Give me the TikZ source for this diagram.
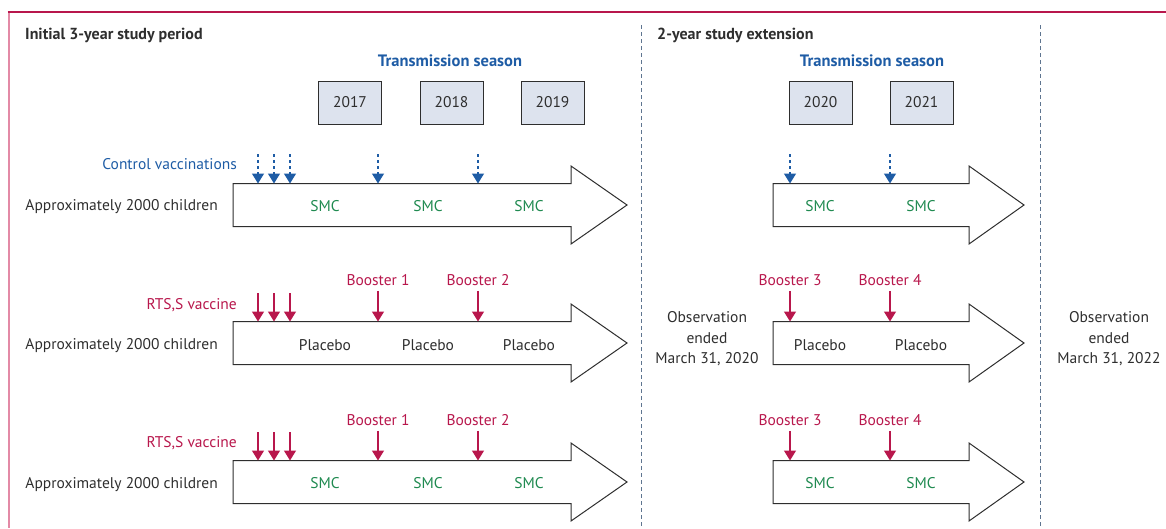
\documentclass[tikz,border=0pt]{standalone}
\usepackage{fontspec}
\setmainfont{PT Sans}
\usetikzlibrary{arrows.meta, positioning, calc}
\definecolor{lancetred}{HTML}{B8174C}
\definecolor{framepink}{HTML}{E38AA6}
\definecolor{seasonblue}{HTML}{1E5CA5}
\definecolor{smcgreen}{HTML}{1F8A50}
\definecolor{boxfill}{HTML}{DDE3EE}
\definecolor{txtgray}{HTML}{2E2E2E}
\definecolor{slate}{HTML}{5E7590}
\newcommand{\fatarrow}[4]{%
  % #1 = x inicial, #2 = y centro, #3 = x fim do corpo, #4 = x da ponta
  \draw[txtgray, line width=1pt, fill=white]
    (#1,#2-21.5) -- (#3,#2-21.5) -- (#3,#2-39) --
    (#4,#2) --
    (#3,#2+39) -- (#3,#2+21.5) -- (#1,#2+21.5) -- cycle;
}
\tikzset{
  ano/.style={draw=txtgray, fill=boxfill, line width=0.9pt, minimum width=63pt,
    minimum height=43pt, inner sep=0pt, text=txtgray},
  titulo/.style={font=\fontsize{16}{18}\selectfont\bfseries, text=txtgray, anchor=west, inner sep=0pt},
  estacao/.style={font=\fontsize{16.5}{18}\selectfont\bfseries, text=seasonblue, inner sep=0pt},
  grupo/.style={text=txtgray, anchor=east, inner sep=0pt},
  smc/.style={text=smcgreen, inner sep=0pt},
  placebo/.style={text=txtgray, inner sep=0pt},
  vac/.style={text=lancetred, inner sep=0pt},
  ctrl/.style={text=seasonblue, inner sep=0pt},
  obs/.style={text=txtgray, align=center, inner sep=0pt,
    font=\fontsize{15.5}{20.5}\selectfont},
  redarrow/.style={lancetred, line width=1.4pt, -{Triangle[width=12pt, length=10pt]}},
  bluearrow/.style={seasonblue, line width=1.4pt, dash pattern=on 3pt off 3pt,
    -{Triangle[width=12pt, length=10pt]}},
  divisa/.style={slate, line width=0.9pt, dash pattern=on 4pt off 3pt},
}

\begin{document}
\begin{tikzpicture}[x=1pt, y=-1pt, >=latex, font=\fontsize{15.5}{18}\selectfont]
    \useasboundingbox (0,0) rectangle (1166,528);

    % moldura
    \draw[framepink, line width=2pt] (8.5,12) -- (8.5,528);
    \draw[lancetred, line width=1.6pt] (7.5,12) -- (1166,12);

    % divisas
    \coordinate (d1top) at (641,25);
    \coordinate (d1bot) at (641,528);
    \coordinate (d2top) at (1040,25);
    \coordinate (d2bot) at (1040,528);
    \draw[divisa] (d1top) -- (d1bot);
    \draw[divisa] (d2top) -- (d2bot);

    \node[titulo] (tInit) at (25,35) {Initial 3-year study period};
    \node[titulo] (tExt) at (657,35) {2-year study extension};

    % anos
    \node[estacao] (sA) at (450,61) {Transmission season};
    \node[estacao] (sB) at (872,61) {Transmission season};
    \node[ano] (y17) at (350,102.5) {2017};
    \node[ano] (y18) at (451.5,102.5) {2018};
    \node[ano] (y19) at (552.5,102.5) {2019};
    \node[ano] (y20) at (820.5,102.5) {2020};
    \node[ano] (y21) at (921.5,102.5) {2021};

    % setas grandes
    \fatarrow{233}{205}{571}{627}
    \fatarrow{233}{343}{571}{627}
    \fatarrow{233}{482}{571}{627}
    \fatarrow{773}{205}{969}{1024}
    \fatarrow{773}{343}{969}{1024}
    \fatarrow{773}{482}{969}{1024}

    \node[grupo] (g1) at (218,207) {Approximately 2000 children};
    \node[grupo] (g2) at (218,346) {Approximately 2000 children};
    \node[grupo] (g3) at (218,485) {Approximately 2000 children};

    % linha 1: controle
    \node[ctrl, anchor=east] (cv) at (237,164) {Control vaccinations};
    \foreach \x [count=\i] in {258,274,290,378,478,790,890} {
        \coordinate (cs\i) at (\x,154);
        \coordinate (ce\i) at (\x,183.5);
        \draw[bluearrow] (cs\i) -- (ce\i);
    }
    \foreach \x/\nm in {325/a,428/b,529/c,820/d,921/e} {
        \node[smc] (smc1\nm) at (\x,206) {SMC};
    }

    % linha 2: RTS,S + placebo
    \node[vac, anchor=east] (rts2) at (237,305) {RTS,S vaccine};
    \node[vac] (b12) at (378,280) {Booster 1};
    \node[vac] (b22) at (478,280) {Booster 2};
    \node[vac] (b32) at (790,280) {Booster 3};
    \node[vac] (b42) at (890,280) {Booster 4};
    \foreach \x [count=\i] in {258,274,290} {
        \coordinate (rs2\i) at (\x,293);
        \coordinate (re2\i) at (\x,321.5);
        \draw[redarrow] (rs2\i) -- (re2\i);
    }
    \foreach \b in {b12,b22,b32,b42} {
        \draw[redarrow, shorten <=5pt] (\b.south) -- ($(\b.south |- 0,321.5)$);
    }
    \foreach \x/\nm in {325/a,428/b,529/c,820/d,921/e} {
        \node[placebo] (pl2\nm) at (\x,345) {Placebo};
    }

    % linha 3: RTS,S + SMC
    \node[vac, anchor=east] (rts3) at (237,443) {RTS,S vaccine};
    \node[vac] (b13) at (378,420) {Booster 1};
    \node[vac] (b23) at (478,420) {Booster 2};
    \node[vac] (b33) at (790,420) {Booster 3};
    \node[vac] (b43) at (890,420) {Booster 4};
    \foreach \x [count=\i] in {258,274,290} {
        \coordinate (rs3\i) at (\x,432);
        \coordinate (re3\i) at (\x,460.5);
        \draw[redarrow] (rs3\i) -- (re3\i);
    }
    \foreach \b in {b13,b23,b33,b43} {
        \draw[redarrow, shorten <=5pt] (\b.south) -- ($(\b.south |- 0,460.5)$);
    }
    \foreach \x/\nm in {325/a,428/b,529/c,820/d,921/e} {
        \node[smc] (smc3\nm) at (\x,483) {SMC};
    }

    % fim da observacao
    \node[obs] (obsA) at (707,339) {Observation\\ended\\March 31, 2020};
    \node[obs] (obsB) at (1109,339) {Observation\\ended\\March 31, 2022};
\end{tikzpicture}
\end{document}
